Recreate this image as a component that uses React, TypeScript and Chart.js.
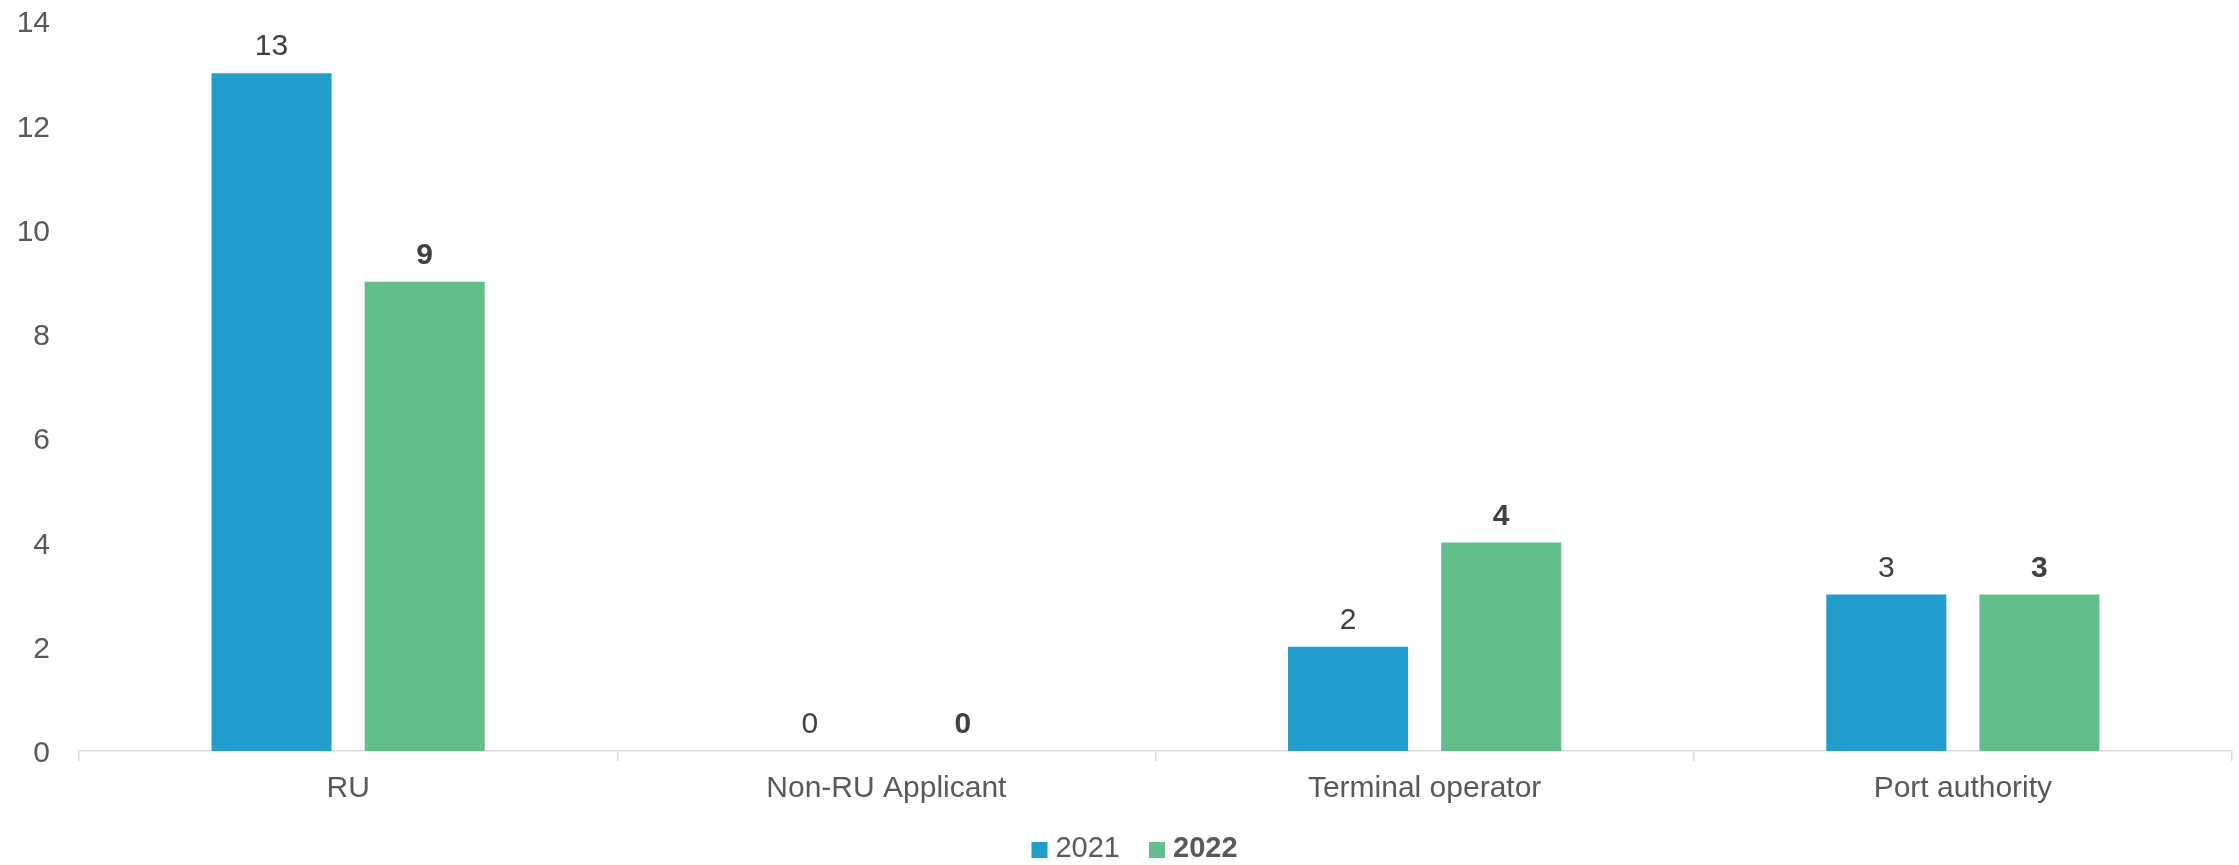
import React, { useEffect, useRef } from "react";
import { Chart, registerables } from "chart.js";

Chart.register(...registerables);

const categories = ["RU", "Non-RU Applicant", "Terminal operator", "Port authority"];
const seriesNames = ["2021", "2022"];
const values2021 = [13, 0, 2, 3];
const values2022 = [9, 0, 4, 3];
const seriesColors = ["#239dcc", "#62bf8b"];
const yMin = 0;
const yMax = 14;
const yStep = 2;

const FONT = '"Liberation Sans", Arial, sans-serif';

const dataLabelPlugin = {
  id: "dataLabels",
  afterDatasetsDraw(chart: any) {
    const ctx = chart.ctx;
    ctx.save();
    chart.data.datasets.forEach((ds: any, i: number) => {
      const meta = chart.getDatasetMeta(i);
      meta.data.forEach((bar: any, j: number) => {
        ctx.font = `${i === 1 ? "bold " : ""}30px ${FONT}`;
        ctx.fillStyle = "#404040";
        ctx.textAlign = "center";
        ctx.textBaseline = "middle";
        ctx.fillText(String(ds.data[j]), bar.x, bar.y - 26);
      });
    });
    ctx.restore();
  },
};

const legendPlugin = {
  id: "customLegend",
  afterDraw(chart: any) {
    const ctx = chart.ctx;
    ctx.save();
    const box = 16;
    const gapText = 8;
    const gapItem = 29;
    const items = chart.data.datasets.map((ds: any, i: number) => {
      const font = `${i === 1 ? "bold " : ""}29px ${FONT}`;
      ctx.font = font;
      const w = ctx.measureText(ds.label).width;
      return { font, w, label: ds.label, color: ds.backgroundColor };
    });
    const total =
      items.reduce((s: number, it: any) => s + box + gapText + it.w, 0) +
      gapItem * (items.length - 1);
    let x = chart.width / 2 + 15 - total / 2;
    const boxTop = chart.height - 23;
    const textMid = chart.height - 16;
    items.forEach((it: any) => {
      ctx.fillStyle = it.color;
      ctx.fillRect(x, boxTop, box, box);
      x += box + gapText;
      ctx.font = it.font;
      ctx.fillStyle = "#595959";
      ctx.textAlign = "left";
      ctx.textBaseline = "middle";
      ctx.fillText(it.label, x, textMid);
      x += it.w + gapItem;
    });
    ctx.restore();
  },
};

export default function App() {
  const canvasRef = useRef<HTMLCanvasElement | null>(null);

  useEffect(() => {
    if (!canvasRef.current) return;
    const chart = new Chart(canvasRef.current, {
      type: "bar",
      data: {
        labels: categories,
        datasets: [
          {
            label: seriesNames[0],
            data: values2021,
            backgroundColor: seriesColors[0],
            categoryPercentage: 0.569,
            barPercentage: 0.784,
          },
          {
            label: seriesNames[1],
            data: values2022,
            backgroundColor: seriesColors[1],
            categoryPercentage: 0.569,
            barPercentage: 0.784,
          },
        ],
      },
      options: {
        animation: false,
        responsive: true,
        maintainAspectRatio: false,
        layout: { padding: { top: 0, right: 7, left: 0, bottom: 0 } },
        plugins: {
          legend: { display: false },
          tooltip: { enabled: false },
        },
        scales: {
          x: {
            offset: true,
            grid: {
              display: true,
              offset: true,
              drawOnChartArea: false,
              drawTicks: true,
              tickLength: 10,
              color: "#d9d9d9",
              lineWidth: 1.5,
            },
            border: { display: true, color: "#d9d9d9", width: 1.5 },
            ticks: {
              color: "#595959",
              font: { family: FONT, size: 30 },
              padding: 10,
              maxRotation: 0,
              autoSkip: false,
            },
            afterFit: (scale: any) => {
              scale.height = 114;
            },
          },
          y: {
            min: yMin,
            max: yMax,
            grid: { display: false, drawTicks: false },
            border: { display: false },
            ticks: {
              stepSize: yStep,
              color: "#595959",
              font: { family: FONT, size: 30 },
              padding: 29,
              labelOffset: 3,
            },
            afterFit: (scale: any) => {
              scale.width = 79;
              scale.paddingTop = 21;
              scale.paddingBottom = 0;
            },
          },
        },
      },
      plugins: [dataLabelPlugin, legendPlugin],
    });
    return () => chart.destroy();
  }, []);

  return (
    <div style={{ position: "absolute", left: 0, top: 0, width: 2239, height: 865, background: "#fff" }}>
      <canvas ref={canvasRef} />
    </div>
  );
}
